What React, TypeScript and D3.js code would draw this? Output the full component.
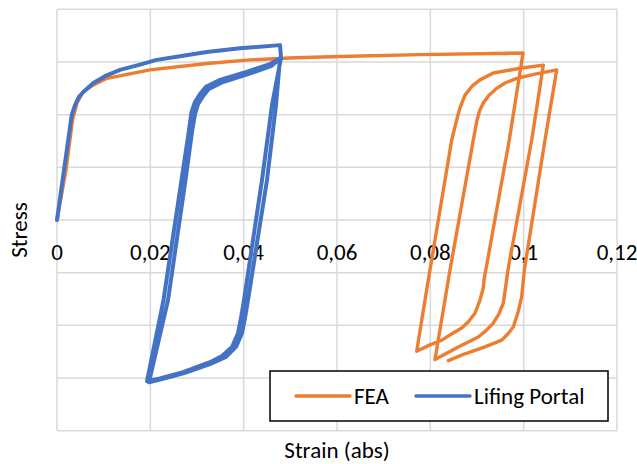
import React from "react";
import * as d3 from "d3";

const xTicks = [0, 0.02, 0.04, 0.06, 0.08, 0.1, 0.12];
const xTickLabels = ["0", "0,02", "0,04", "0,06", "0,08", "0,1", "0,12"];
const yGrid = [-400, -300, -200, -100, 0, 100, 200, 300, 400];

const seriesNames = ["FEA", "Lifing Portal"];
const seriesColors = ["#ED7D31", "#4472C4"];

const feaStrain = [
  0, 0.00193, 0.00332, 0.00429, 0.00557, 0.00771, 0.01071, 0.01993, 0.03214, 0.04136, 0.051, 0.06279, 0.07779, 0.09986,
  0.09692, 0.0915, 0.09135, 0.09064, 0.08957, 0.08807, 0.08672, 0.08464, 0.08244, 0.07993, 0.07708,
  0.07956, 0.08458, 0.08565, 0.08636, 0.08743, 0.08893, 0.09064, 0.09349, 0.09921, 0.10421,
  0.10172, 0.09664, 0.09564, 0.09471, 0.09349, 0.09193, 0.09028, 0.086, 0.081,
  0.08421, 0.08921, 0.08994, 0.09054, 0.09135, 0.09257, 0.09422, 0.096, 0.09851, 0.10243, 0.10708,
  0.10457, 0.10014, 0.09958, 0.09879, 0.09778, 0.09664, 0.09529, 0.09171, 0.08743, 0.08385,
];
const feaStress = [
  0, 95, 190, 222, 243, 256, 269, 285, 297, 304, 308, 311, 314, 317,
  152, -114, -129, -152, -177, -194, -205, -216, -228, -237, -249,
  -114, 152, 190, 213, 237, 254, 266, 279, 288, 294,
  152, -95, -158, -178, -196, -210, -222, -241, -265,
  -95, 152, 187, 207, 222, 237, 250, 260, 269, 277, 285,
  152, -95, -146, -175, -203, -216, -228, -241, -254, -267,
];

const lifingStrain = [
  0, 0.0015, 0.00315, 0.00386, 0.00471, 0.00564, 0.00778, 0.01029, 0.0135, 0.01779, 0.02137, 0.02636, 0.03208, 0.03921, 0.04779,
  0.048, 0.04607, 0.04393, 0.04007, 0.03943, 0.03879, 0.0375, 0.03536, 0.03279, 0.027, 0.02207, 0.01929,
  0.02282, 0.02668, 0.02829, 0.02882, 0.02957, 0.03064, 0.03193, 0.03493, 0.03986, 0.04564, 0.04779,
  0.04693, 0.045, 0.04093, 0.04029, 0.03964, 0.03836, 0.03621, 0.03321, 0.02743, 0.0225, 0.01971,
  0.02379, 0.02754, 0.02893, 0.02957, 0.03021, 0.03129, 0.03257, 0.03557, 0.04029, 0.04586, 0.04779,
];
const lifingStress = [
  0, 95, 199, 218, 234, 243, 260, 273, 285, 295, 304, 311, 319, 326, 332,
  308, 218, 76, -152, -186, -215, -241, -258, -270, -289, -301, -306,
  -152, 76, 171, 205, 224, 239, 253, 266, 279, 296, 307,
  218, 76, -152, -186, -215, -241, -260, -272, -290, -302, -308,
  -152, 76, 167, 201, 220, 235, 249, 262, 275, 292, 306,
];

const W = 637;
const H = 464;
const FONT = "Carlito, Calibri, Lato, sans-serif";
const FS = 23;

export default function App() {
  const x = d3.scaleLinear().domain([0, 0.12]).range([57, 617]);
  const y = d3.scaleLinear().domain([-400, 400]).range([430.7, 9.3]);

  const line = d3
    .line<[number, number]>()
    .x((d) => x(d[0]))
    .y((d) => y(d[1]));

  const fea: [number, number][] = feaStrain.map((s, i) => [s, feaStress[i]]);
  const lifing: [number, number][] = lifingStrain.map((s, i) => [s, lifingStress[i]]);
  const series = [fea, lifing];
  const widths = [3.4, 4];

  const legendX = [296, 416];

  return (
    <svg
      width={W}
      height={H}
      style={{ position: "absolute", left: 0, top: 0, background: "#fff" }}
      fontFamily={FONT}
    >
      <rect x={0} y={0} width={W} height={H} fill="#fff" />
      {yGrid.map((v) => (
        <line key={"h" + v} x1={x(0)} x2={x(0.12)} y1={y(v)} y2={y(v)} stroke="#d9d9d9" strokeWidth={1.5} />
      ))}
      {xTicks.map((v) => (
        <line key={"v" + v} x1={x(v)} x2={x(v)} y1={y(400)} y2={y(-400)} stroke="#d9d9d9" strokeWidth={1.5} />
      ))}
      {xTicks.map((v, i) => (
        <text key={"t" + v} x={x(v)} y={259.5} textAnchor="middle" fontSize={FS} fill="#000">
          {xTickLabels[i]}
        </text>
      ))}
      {series.map((s, i) => (
        <path
          key={"s" + i}
          d={line(s) || ""}
          fill="none"
          stroke={seriesColors[i]}
          strokeWidth={widths[i]}
          strokeLinejoin="round"
          strokeLinecap="round"
        />
      ))}
      <rect x={270} y={371} width={338} height={50} fill="#fff" stroke="#000" strokeWidth={1.5} />
      {seriesNames.map((n, i) => (
        <g key={"l" + i}>
          <line
            x1={legendX[i]}
            x2={legendX[i] + 54}
            y1={396}
            y2={396}
            stroke={seriesColors[i]}
            strokeWidth={3.4}
            strokeLinecap="round"
          />
          <text x={legendX[i] + 58} y={403.5} fontSize={FS} fill="#000">
            {n}
          </text>
        </g>
      ))}
      <text x={337} y={457.5} textAnchor="middle" fontSize={FS} fill="#000">
        Strain (abs)
      </text>
      <text transform="translate(26.5,230) rotate(-90)" textAnchor="middle" fontSize={FS} fill="#000">
        Stress
      </text>
    </svg>
  );
}
